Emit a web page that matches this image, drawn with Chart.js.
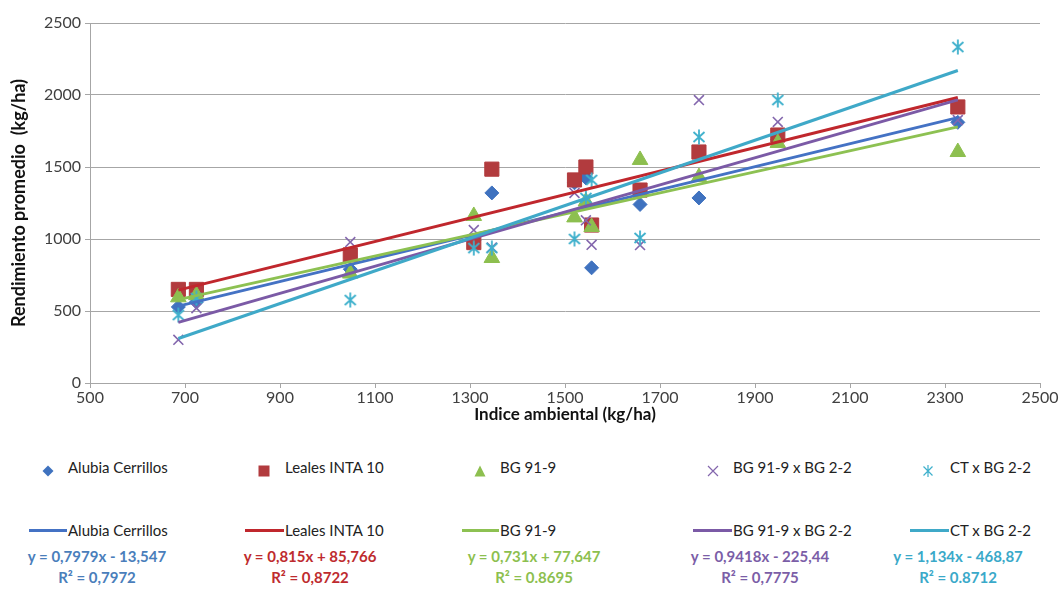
<!DOCTYPE html>
<html>
<head>
<meta charset="utf-8">
<script src="https://cdn.jsdelivr.net/npm/chart.js@4"></script>
<style>
  body { margin: 0; background: #fff; font-family: Lato, sans-serif; }
  #wrap { position: relative; width: 1059px; height: 592px; }
  #chart { position: absolute; left: 0; top: 0; }
  .leg { position: absolute; font-size: 15px; color: #222; white-space: nowrap; line-height: 18px; }
  .mk { position: absolute; }
  .ln { position: absolute; height: 3px; }
  .eq { position: absolute; font-weight: bold; font-size: 15px; text-align: center; line-height: 21px;
        transform: translateX(-50%); white-space: nowrap; }
</style>
</head>
<body>
<div id="wrap">
  <canvas id="chart" width="1059" height="430"></canvas>
  <div id="legend"></div>
</div>
<script>
// environment index (x) and yields per genotype
const envIndex = [686, 724, 1048, 1308, 1346, 1520, 1544, 1556, 1658, 1782, 1948, 2327];
const alubia   = [528, 562, 790, 990, 1320, 1390, 1424, 800, 1240, 1285, 1690, 1810];
const leales   = [650, 650, 890, 975, 1485, 1410, 1500, 1097, 1340, 1604, 1722, 1917];
const bg919    = [595, 610, 760, 1160, 868, 1150, 1260, 1083, 1549, 1430, 1667, 1604];
const bgxbg    = [300, 520, 979, 1062, 940, 1320, 1130, 960, 958, 1965, 1813, 1826];
const ctxbg    = [472, 590, 576, 937, 937, 1000, 1285, 1410, 1007, 1708, 1965, 2333];

const seriesNames = ['Alubia Cerrillos', 'Leales INTA 10', 'BG 91-9', 'BG 91-9 x BG 2-2', 'CT x BG 2-2'];
const slopes      = [0.7979, 0.815, 0.731, 0.9418, 1.134];
const intercepts  = [-13.547, 85.766, 77.647, -225.44, -468.87];
const eqTexts     = ['y = 0,7979x - 13,547', 'y = 0,815x + 85,766', 'y = 0,731x + 77,647', 'y = 0,9418x - 225,44', 'y = 1,134x - 468,87'];
const r2Texts     = ['R² = 0,7972', 'R² = 0,8722', 'R² = 0.8695', 'R² = 0,7775', 'R² = 0.8712'];

const xTicksMin = 500, xTicksMax = 2500, xStep = 200;
const yTicksMin = 0, yTicksMax = 2500, yStep = 500;

const markerColors = ['#3F72BF', '#B23B3E', '#8DBF4F', '#8366AD', '#3EB0CC'];
const lineColors   = ['#4472C4', '#C0272D', '#8DC152', '#7B5AA6', '#3FA9C8'];
const eqColors     = ['#4A7EBB', '#BE2B2E', '#8DBF4F', '#7B5EA7', '#3AA9C9'];

// asterisk marker (x with vertical bar)
function makeAsterisk(color) {
    const c = document.createElement('canvas');
    c.width = 16; c.height = 16;
    const g = c.getContext('2d');
    g.strokeStyle = color;
    g.lineWidth = 1.8;
    g.beginPath();
    g.moveTo(2.5, 3); g.lineTo(13.5, 13);
    g.moveTo(13.5, 3); g.lineTo(2.5, 13);
    g.moveTo(8, 0.5); g.lineTo(8, 15.5);
    g.stroke();
    return c;
}

const valueSets = [alubia, leales, bg919, bgxbg, ctxbg];
const styles = [
    { pointStyle: 'rectRot', radius: 7, border: 1 },
    { pointStyle: 'rect', radius: 10, border: 1 },
    { pointStyle: 'triangle', radius: 9, border: 1 },
    { pointStyle: 'crossRot', radius: 7, border: 1.6 },
    { pointStyle: makeAsterisk(markerColors[4]), radius: 8, border: 1 }
];

const xMin = Math.min(...envIndex), xMax = Math.max(...envIndex);
const datasets = [];

// trend lines on top
seriesNames.forEach((name, i) => {
    datasets.push({
        label: name + ' (lineal)',
        data: [xMin, xMax].map(x => ({ x: x, y: slopes[i] * x + intercepts[i] })),
        showLine: true,
        borderColor: lineColors[i],
        borderWidth: 3,
        pointRadius: 0,
        order: 4 - i
    });
});

seriesNames.forEach((name, i) => {
    datasets.push({
        label: name,
        data: envIndex.map((x, k) => ({ x: x, y: valueSets[i][k] })),
        showLine: false,
        pointStyle: styles[i].pointStyle,
        pointRadius: styles[i].radius,
        pointBackgroundColor: markerColors[i],
        pointBorderColor: markerColors[i],
        pointBorderWidth: styles[i].border,
        order: 9 - i
    });
});

const tickFont = { family: 'Lato', size: 16 };
const plain = v => String(v);

new Chart(document.getElementById('chart'), {
    type: 'scatter',
    data: { datasets: datasets },
    options: {
        responsive: false,
        animation: false,
        layout: { padding: { left: 8, right: 19, top: 23, bottom: 0 } },
        plugins: { legend: { display: false }, tooltip: { enabled: false } },
        scales: {
            x: {
                type: 'linear', min: xTicksMin, max: xTicksMax,
                ticks: { stepSize: xStep, color: '#404040', font: tickFont, padding: 0, callback: plain },
                grid: { drawOnChartArea: false, tickLength: 5, color: '#a6a6a6' },
                border: { color: '#a6a6a6' },
                title: { display: true, text: 'Indice ambiental (kg/ha)', color: '#111',
                         font: { family: 'Lato', size: 17, weight: 'bold' }, padding: { top: 0, bottom: 5 } },
                afterFit: s => { s.height = 47; }
            },
            y: {
                min: yTicksMin, max: yTicksMax,
                ticks: { stepSize: yStep, color: '#404040', font: tickFont, padding: 4, callback: plain },
                grid: { color: '#a6a6a6', tickLength: 5 },
                border: { color: '#a6a6a6' },
                title: { display: true, text: 'Rendimiento promedio  (kg/ha)', color: '#111',
                         font: { family: 'Lato', size: 18, weight: 'bold' }, padding: { top: 0, bottom: 2 } },
                afterFit: s => { s.width = 82; }
            }
        }
    }
});

// legend + equations as html
const legend = document.getElementById('legend');
const markerX = [48, 264, 480, 713, 928];
const labelX  = [68, 285, 500, 733, 950];
const lineX   = [29, 245, 462, 693, 910];
const eqX     = [97, 310, 534, 760, 958];
const svgMarks = [
    c => `<svg width="12" height="12"><polygon points="6,0.5 11.5,6 6,11.5 0.5,6" fill="${c}"/></svg>`,
    c => `<svg width="12" height="12"><rect x="0.5" y="0.5" width="11" height="11" fill="${c}"/></svg>`,
    c => `<svg width="12" height="12"><polygon points="6,0.5 11.5,11.5 0.5,11.5" fill="${c}"/></svg>`,
    c => `<svg width="12" height="12"><path d="M1 1L11 11M11 1L1 11" stroke="${c}" stroke-width="1.2"/></svg>`,
    c => `<svg width="12" height="12"><path d="M1.5 1.5L10.5 10.5M10.5 1.5L1.5 10.5M6 0L6 12" stroke="${c}" stroke-width="1.2"/></svg>`
];
let html = '';
seriesNames.forEach((name, i) => {
    html += `<div class="mk" style="left:${markerX[i] - 6}px;top:461px">${svgMarks[i](markerColors[i])}</div>`;
    html += `<div class="leg" style="left:${labelX[i]}px;top:458px">${name}</div>`;
    html += `<div class="ln" style="left:${lineX[i]}px;top:529px;width:${labelX[i] - lineX[i] - 1}px;background:${lineColors[i]}"></div>`;
    html += `<div class="leg" style="left:${labelX[i]}px;top:521px">${name}</div>`;
    html += `<div class="eq" style="left:${eqX[i]}px;top:546px;color:${eqColors[i]}">${eqTexts[i]}<br>${r2Texts[i]}</div>`;
});
legend.innerHTML = html;
</script>
</body>
</html>
